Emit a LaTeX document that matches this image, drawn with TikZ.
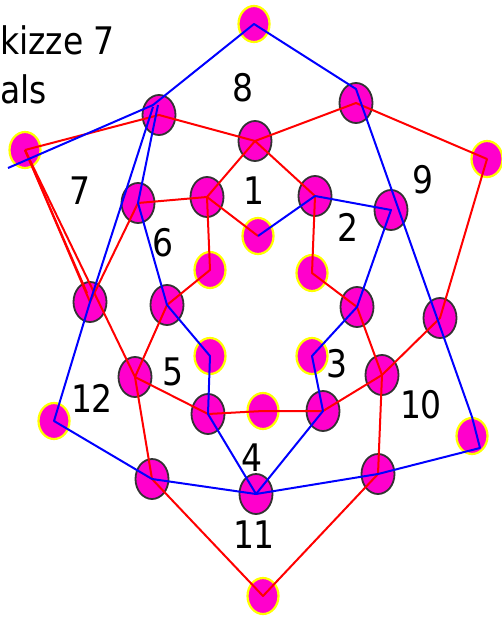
\documentclass[tikz,border=0pt]{standalone}
\usepackage{fontspec}
\setmainfont{DejaVu Sans}
\usetikzlibrary{shapes.geometric,calc}
\definecolor{dotfill}{HTML}{FF00CC}
\definecolor{dotrim}{HTML}{333333}
\definecolor{rimyel}{HTML}{FFFF00}
\definecolor{edgered}{HTML}{FF0000}
\definecolor{edgeblue}{HTML}{0000FF}
\newcommand{\tall}[1]{\scalebox{1}[1.15]{#1}}

\begin{document}
\begin{tikzpicture}[x=1pt,y=-1pt,
  dk/.style={ellipse,draw=dotrim,line width=1.8pt,fill=dotfill,minimum width=33pt,minimum height=40pt,inner sep=0pt},
  yl/.style={ellipse,draw=rimyel,line width=2.2pt,fill=dotfill,minimum width=31pt,minimum height=36pt,inner sep=0pt},
  rd/.style={draw=edgered,line width=2pt,line join=round},
  bl/.style={draw=edgeblue,line width=2pt,line join=round},
  lbl/.style={font=\fontsize{33}{40}\selectfont,inner sep=0pt}]
  \useasboundingbox (0,0) rectangle (501,620);

  \node[yl] (yT) at (254,24) {};
  \node[yl] (yUL) at (25,150) {};
  \node[yl] (yUR) at (487,159) {};
  \node[yl] (yLL) at (54,421) {};
  \node[yl] (yLR) at (472,436) {};
  \node[yl] (yB) at (263,596) {};
  \node[yl] (yi1) at (258,236) {};
  \node[yl] (yi2) at (312,273) {};
  \node[yl] (yi3) at (312,356) {};
  \node[yl] (yi4) at (263,411) {};
  \node[yl] (yi5) at (210,356) {};
  \node[yl] (yi6) at (210,270) {};

  \node[dk] (dA) at (159,115) {};
  \node[dk] (dB) at (255,141) {};
  \node[dk] (dC) at (356,103) {};
  \node[dk] (dD) at (138,203) {};
  \node[dk] (dE) at (207,197) {};
  \node[dk] (dF) at (315,196) {};
  \node[dk] (dG) at (391,210) {};
  \node[dk] (dH) at (90,302) {};
  \node[dk] (dI) at (167,305) {};
  \node[dk] (dJ) at (357,307) {};
  \node[dk] (dK) at (440,318) {};
  \node[dk] (dL) at (135,377) {};
  \node[dk] (dM) at (382,375) {};
  \node[dk] (dN) at (208,414) {};
  \node[dk] (dO) at (323,411) {};
  \node[dk] (dP) at (152,479) {};
  \node[dk] (dQ) at (378,474) {};
  \node[dk] (dR) at (256,494) {};

  \coordinate (sp) at (8,168);
  \coordinate (bk) at (480,448);

  \draw[rd] (yUL.center) -- (dA.center) -- (dB.center) -- (dC.center) -- (yUR.center) -- (dK.center) -- (dM.center)
        -- (dQ.center) -- (yB.center) -- (dP.center) -- (dL.center) -- (yUL.center);
  \draw[rd] (yUL.center) -- (dH.center) -- (dD.center) -- (dE.center) -- (dB.center);
  \draw[rd] (yUL.center) -- ($(dH.center)+(-3,-9)$);
  \draw[rd] (dE.center) -- (yi1.center);
  \draw[rd] (dE.center) -- (yi6.center) -- (dI.center) -- (dL.center) -- (dN.center) -- (yi4.center) -- (dO.center)
        -- (dM.center) -- (dJ.center) -- (yi2.center) -- (dF.center) -- (dB.center);

  \draw[bl] (sp) -- ($(dA.center)+(-6,-10)$) -- (yT.center) -- ($(dC.center)+(0,-14)$) -- (yLR.north) -- (bk)
        -- (dQ.center) -- (dR.center) -- (dP.center) -- (yLL.center) -- (dH.center) -- ($(dA.center)+(-6,-8)$);
  \draw[bl] ($(dA.center)+(-1,-10)$) -- (dD.center) -- (dI.center) -- (yi5.center) -- (dN.center) -- (dR.center)
        -- (dO.center) -- (yi3.center) -- (dJ.center) -- (dG.center) -- (dF.center) -- (yi1.center);

  \node[lbl,anchor=base west] (title) at (0,55) {\tall{kizze 7}};
  \node[lbl,anchor=base west] (sub) at (0,104) {\tall{als}};
  \node[lbl] (n1) at (254,191) {\tall{1}};
  \node[lbl] (n2) at (348,227) {\tall{2}};
  \node[lbl] (n3) at (337,364) {\tall{3}};
  \node[lbl] (n4) at (252,458) {\tall{4}};
  \node[lbl] (n5) at (173,372) {\tall{5}};
  \node[lbl] (n6) at (163,243) {\tall{6}};
  \node[lbl] (n7) at (80,191) {\tall{7}};
  \node[lbl] (n8) at (243,88) {\tall{8}};
  \node[lbl] (n9) at (423,180) {\tall{9}};
  \node[lbl] (n10) at (421,405) {\tall{10}};
  \node[lbl] (n11) at (254,535) {\tall{11}};
  \node[lbl] (n12) at (92,398) {\tall{12}};
\end{tikzpicture}
\end{document}
